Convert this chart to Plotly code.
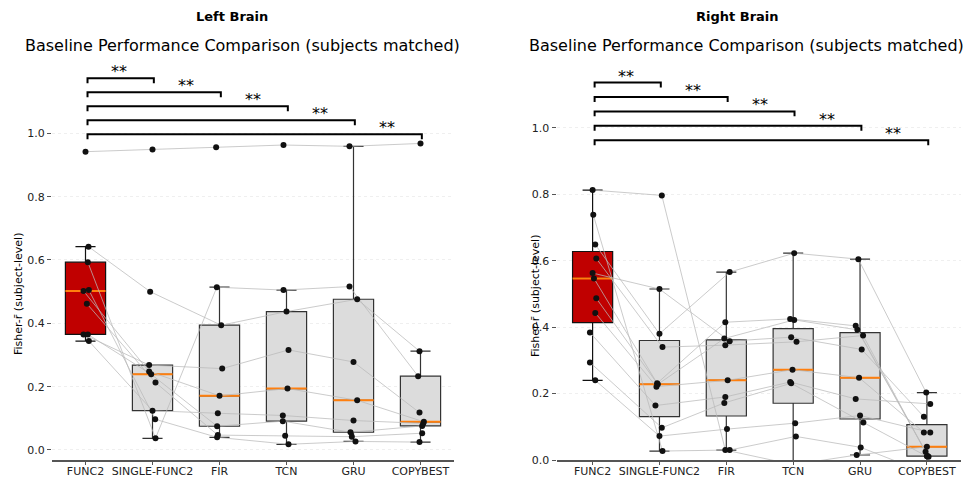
import numpy as np
import plotly.graph_objects as go

# ---------------- data ----------------
models = ["FUNC2", "SINGLE-FUNC2", "FIR", "TCN", "GRU", "COPYBEST"]
y_tick_vals = [0.0, 0.2, 0.4, 0.6, 0.8, 1.0]
y_tick_text = ["0.0", "0.2", "0.4", "0.6", "0.8", "1.0"]
sig_left = ["**", "**", "**", "**", "**"]
sig_right = ["**", "**", "**", "**", "**"]

# Left brain: one value per subject (same subject order in every list)
left_func2 = [0.942, 0.642, 0.593, 0.365, 0.502, 0.344, 0.365, 0.462, 0.505]
left_single = [0.949, 0.500, 0.037, 0.268, 0.248, 0.124, 0.239, 0.213, 0.097]
left_fir = [0.956, 0.394, 0.514, 0.257, 0.171, 0.116, 0.075, 0.047, 0.040]
left_tcn = [0.963, 0.437, 0.505, 0.316, 0.194, 0.109, 0.091, 0.045, 0.018]
left_gru = [0.959, 0.476, 0.516, 0.278, 0.157, 0.093, 0.056, 0.042, 0.027]
left_copy = [0.968, 0.312, 0.233, 0.118, 0.089, 0.084, 0.076, 0.053, 0.025]

# horizontal jitter of the subject dots (category units)
left_jit_func2 = [0.0, 0.045, 0.035, -0.03, -0.03, 0.05, 0.035, 0.02, 0.05]
left_jit_single = [0.0, -0.035, 0.045, -0.05, -0.05, 0.0, -0.02, 0.045, 0.04]
left_jit_fir = [-0.05, 0.025, -0.04, 0.04, 0.0, -0.025, -0.035, -0.025, -0.035]
left_jit_tcn = [-0.045, 0.0, -0.045, 0.03, 0.015, -0.055, -0.055, -0.02, 0.03]
left_jit_gru = [-0.06, 0.055, -0.06, 0.0, 0.055, 0.0, -0.045, -0.025, 0.03]
left_jit_copy = [0.0, -0.015, -0.035, -0.015, 0.05, 0.04, 0.025, 0.025, -0.015]

# Right brain
right_func2 = [0.649, 0.547, 0.487, 0.563, 0.607, 0.443, 0.384, 0.294, 0.240, 0.739, 0.813]
right_single = [0.380, 0.231, 0.228, 0.515, 0.340, 0.221, 0.164, 0.097, 0.072, 0.027, 0.797]
right_fir = [0.566, 0.415, 0.366, 0.358, 0.346, 0.240, 0.190, 0.172, 0.093, 0.030, 0.030]
right_tcn = [0.623, 0.425, 0.422, 0.370, 0.356, 0.272, 0.235, 0.231, 0.111, 0.071, -0.014]
right_gru = [0.605, 0.404, 0.392, 0.333, 0.375, 0.248, 0.184, 0.113, 0.134, 0.038, 0.015]
right_copy = [0.203, 0.010, 0.025, 0.130, 0.012, 0.083, 0.169, 0.011, 0.083, -0.040, 0.040]

right_jit_func2 = [0.04, 0.02, 0.055, 0.0, 0.055, 0.04, -0.04, -0.04, 0.04, 0.01, 0.0]
right_jit_single = [0.0, -0.035, -0.025, 0.0, 0.045, -0.045, -0.06, 0.035, 0.0, 0.045, 0.035]
right_jit_fir = [0.05, -0.015, -0.03, 0.05, -0.015, 0.02, -0.015, -0.03, 0.01, 0.05, -0.015]
right_jit_tcn = [0.015, -0.045, 0.015, -0.03, 0.05, -0.01, -0.045, -0.03, 0.03, 0.04, 0.0]
right_jit_gru = [-0.025, -0.065, -0.04, 0.025, 0.045, -0.015, -0.065, 0.05, 0.0, 0.01, -0.05]
right_jit_copy = [-0.01, 0.025, -0.02, -0.045, 0.01, -0.045, 0.05, 0.0, 0.05, 0.0, 0.0]

left_values = [left_func2, left_single, left_fir, left_tcn, left_gru, left_copy]
left_jitter = [left_jit_func2, left_jit_single, left_jit_fir, left_jit_tcn, left_jit_gru, left_jit_copy]
right_values = [right_func2, right_single, right_fir, right_tcn, right_gru, right_copy]
right_jitter = [right_jit_func2, right_jit_single, right_jit_fir, right_jit_tcn, right_jit_gru, right_jit_copy]

# ---------------- style ----------------
W, H = 964, 480
FONT = "DejaVu Sans"
RED = "#c00000"
GRAY = "#dcdcdc"
ORANGE = "#ff7f0e"
BOX_W = 0.6

fig = go.Figure()


def add_panel(values, jitter, sigs, axn, bracket_base, bracket_step, leg):
    xr = "x" if axn == 1 else "x%d" % axn
    yr = "y" if axn == 1 else "y%d" % axn
    med_x, med_y = [], []
    for i, vals in enumerate(values):
        v = np.asarray(vals, dtype=float)
        q1, med, q3 = np.percentile(v, [25, 50, 75])
        iqr = q3 - q1
        lf = v[v >= q1 - 1.5 * iqr].min()
        uf = v[v <= q3 + 1.5 * iqr].max()
        fig.add_trace(go.Box(
            x=[i], q1=[q1], median=[med], q3=[q3], lowerfence=[lf], upperfence=[uf],
            width=BOX_W, whiskerwidth=0.5, boxpoints=False,
            fillcolor=RED if i == 0 else GRAY,
            line=dict(color="#111111" if i == 0 else "#333333", width=1.2),
            hoverinfo="skip", showlegend=False, xaxis=xr, yaxis=yr))
        med_x += [i - BOX_W / 2, i + BOX_W / 2, None]
        med_y += [med, med, None]
    fig.add_trace(go.Scatter(x=med_x, y=med_y, mode="lines",
                             line=dict(color=ORANGE, width=2),
                             hoverinfo="skip", showlegend=False, xaxis=xr, yaxis=yr))
    n_sub = len(values[0])
    for s in range(n_sub):
        fig.add_trace(go.Scatter(
            x=[i + jitter[i][s] for i in range(len(values))],
            y=[values[i][s] for i in range(len(values))],
            mode="lines", line=dict(color="rgba(185,185,185,0.75)", width=1),
            hoverinfo="skip", showlegend=False, xaxis=xr, yaxis=yr))
    px, py = [], []
    for i in range(len(values)):
        for s in range(n_sub):
            px.append(i + jitter[i][s])
            py.append(values[i][s])
    fig.add_trace(go.Scatter(x=px, y=py, mode="markers",
                             marker=dict(color="#111111", size=6),
                             hoverinfo="skip", showlegend=False, xaxis=xr, yaxis=yr))
    # significance brackets
    for k, sig in enumerate(sigs):
        j = k + 1
        level = bracket_base + (len(sigs) - j) * bracket_step
        fig.add_shape(type="path",
                      path="M %f,%f L %f,%f L %f,%f L %f,%f" % (0.03, level - leg, 0.03, level,
                                                                 j + 0.02, level, j + 0.02, level - leg),
                      xref=xr, yref=yr, line=dict(color="black", width=2), layer="above")
        fig.add_annotation(x=j - 0.5, y=level, xref=xr, yref=yr, text=sig, showarrow=False,
                           yanchor="bottom", yshift=-5,
                           font=dict(family=FONT, size=16, color="#000000"))


add_panel(left_values, left_jitter, sig_left, 1, 0.997, 0.0442, 0.016)
add_panel(right_values, right_jitter, sig_right, 2, 0.963, 0.0435, 0.015)

ydom = [20 / H, 420 / H]
axis_common = dict(
    automargin=False,
    showgrid=False, zeroline=False, showline=True, linecolor="#555555", linewidth=1.5,
    ticks="outside", ticklen=3, tickcolor="#555555", ticklabelstandoff=-3,
    tickmode="array", tickvals=list(range(len(models))), ticktext=models,
    tickfont=dict(family=FONT, size=11, color="#222222"),
)
yaxis_common = dict(
    automargin=False,
    showgrid=True, gridcolor="#efefef", griddash="dot", gridwidth=1,
    zeroline=False, showline=False, ticks="outside", ticklen=4, tickcolor="#555555",
    tickmode="array", tickvals=y_tick_vals, ticktext=y_tick_text,
    tickfont=dict(family=FONT, size=11, color="#222222"),
)

fig.update_layout(
    width=W, height=H, margin=dict(l=0, r=0, t=0, b=0),
    paper_bgcolor="white", plot_bgcolor="white", hovermode=False,
    xaxis=dict(domain=[52 / W, 454 / W], range=[-0.5, 5.5], anchor="y", **axis_common),
    yaxis=dict(domain=ydom, range=[-0.0316, 1.2315], anchor="x", **yaxis_common),
    xaxis2=dict(domain=[556.5 / W, 961 / W], range=[-0.54, 5.51], anchor="y2", **axis_common),
    yaxis2=dict(domain=ydom, range=[0.0, 1.2048], anchor="x2", **yaxis_common),
)

# titles and axis labels
def paper_text(x_px, y_px, text, size, bold=False, angle=0):
    fig.add_annotation(x=x_px / W, y=1 - y_px / H, xref="paper", yref="paper",
                       text="<b>%s</b>" % text if bold else text, showarrow=False,
                       xanchor="center", yanchor="middle", textangle=angle,
                       font=dict(family=FONT, size=size, color="black"))

paper_text(232, 17, "Left Brain", 13, bold=True)
paper_text(242, 45, "Baseline Performance Comparison (subjects matched)", 16)
paper_text(737, 17, "Right Brain", 13, bold=True)
paper_text(746, 45, "Baseline Performance Comparison (subjects matched)", 16)
paper_text(18, 294, "Fisher-r\u0304 (subject-level)", 11, angle=-90)
paper_text(535, 296, "Fisher-r\u0304 (subject-level)", 11, angle=-90)

fig.write_html(
    "out.html",
    config={"displayModeBar": False, "staticPlot": True},
    post_script=(
        "var gd=document.getElementById('{plot_id}');"
        "gd.style.position='absolute';gd.style.left='0px';gd.style.top='0px';"
        "document.body.style.margin='0px';document.body.style.overflow='hidden';"
        "document.documentElement.style.overflow='hidden';"
    ),
)
